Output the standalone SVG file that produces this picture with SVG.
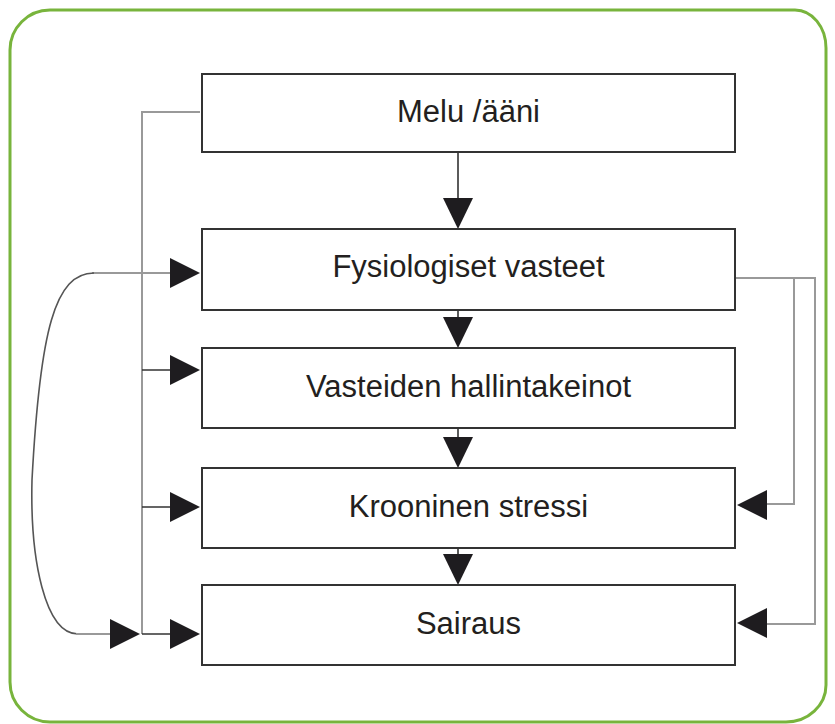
<svg xmlns="http://www.w3.org/2000/svg" width="835" height="724" viewBox="0 0 835 724">
<style>
.box{fill:#fff;stroke:#333;stroke-width:2}
.lbl{font-family:"Liberation Sans",Arial,sans-serif;font-size:31px;fill:#231f20;text-anchor:middle}
.gl{fill:none;stroke:#999;stroke-width:2}
.dl{fill:none;stroke:#333;stroke-width:1.6}
.ah{fill:#1e1c1f}
</style>
<rect width="835" height="724" fill="#fff"/>
<path d="M 50 10 H 795 A 31 38 0 0 1 826 48 V 685 A 40 37 0 0 1 786 722 H 50 A 40 40 0 0 1 10 682 V 50 A 40 40 0 0 1 50 10 Z" fill="none" stroke="#78b43c" stroke-width="3"/>
<g id="connectors">
<path class="gl" d="M 200 112 H 142 V 634"/>
<path class="gl" d="M 172 273 H 92"/>
<path fill="none" stroke="#555" stroke-width="1.6" d="M 94 273 C 55 273 40 330 32 480 C 30 560 45 634 78 634"/>
<path class="gl" d="M 76 634 H 112"/>
<path class="dl" d="M 142 370 H 172 M 142 507 H 172 M 142 634 H 172"/>
<path class="gl" d="M 735 278 H 815 V 624 H 765"/>
<path class="gl" d="M 794 278 V 504 H 765" stroke="#aaa" stroke-width="2.5"/>
<path class="dl" d="M 458 152 V 200 M 458 310 V 318 M 458 428 V 438 M 458 548 V 555"/>
<polygon class="ah" points="200,273 170,258 170,288"/>
<polygon class="ah" points="200,370 170,355 170,385"/>
<polygon class="ah" points="200,507 170,492 170,522"/>
<polygon class="ah" points="200,634 170,619 170,649"/>
<polygon class="ah" points="140,634 110,619 110,649"/>
<polygon class="ah" points="737,505 767,490 767,520"/>
<polygon class="ah" points="737,623 767,608 767,638"/>
<polygon class="ah" points="458,229 443,198 473,198"/>
<polygon class="ah" points="458,348 443,317 473,317"/>
<polygon class="ah" points="458,468 443,437 473,437"/>
<polygon class="ah" points="458,585 443,554 473,554"/>
</g>
<g id="melu"><rect class="box" x="202" y="74" width="533" height="78"/><text class="lbl" x="468.5" y="122">Melu /ääni</text></g>
<g id="fysiologiset"><rect class="box" x="202" y="229" width="533" height="81"/><text class="lbl" x="468.5" y="277">Fysiologiset vasteet</text></g>
<g id="vasteiden"><rect class="box" x="202" y="348" width="533" height="80"/><text class="lbl" x="468.5" y="397">Vasteiden hallintakeinot</text></g>
<g id="krooninen"><rect class="box" x="202" y="468" width="533" height="80"/><text class="lbl" x="468.5" y="517">Krooninen stressi</text></g>
<g id="sairaus"><rect class="box" x="202" y="585" width="533" height="80"/><text class="lbl" x="468.5" y="634">Sairaus</text></g>
</svg>
